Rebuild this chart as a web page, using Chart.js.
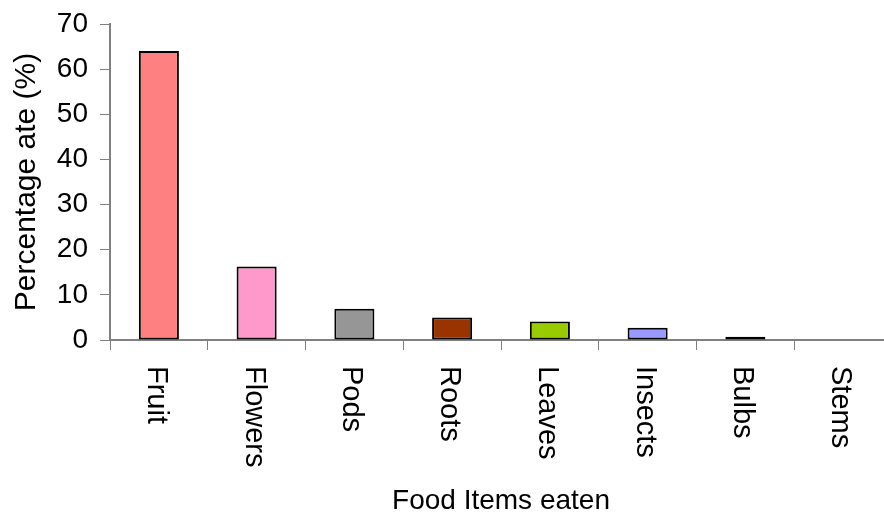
<!DOCTYPE html>
<html>
<head>
<meta charset="utf-8">
<script src="https://cdn.jsdelivr.net/npm/chart.js@4.4.1/dist/chart.umd.min.js"></script>
<style>
  html, body { margin: 0; padding: 0; background: #ffffff; overflow: hidden; }
  #wrap { width: 892px; height: 520px; }
</style>
</head>
<body>
<div id="wrap"><canvas id="chart" width="892" height="520"></canvas></div>
<script>
// Food items and the share of feeding records for each
const categories = ['Fruit', 'Flowers', 'Pods', 'Roots', 'Leaves', 'Insects', 'Bulbs', 'Stems'];
const percentages = [64.0, 16.3, 6.9, 5.0, 4.1, 2.7, 0.7, 0];
const barColors = ['#FF8080', '#FF99CC', '#969696', '#993300', '#99CC00', '#9999FF', '#000000', '#FFFFFF'];
const yTicks = [0, 10, 20, 30, 40, 50, 60, 70];

const FONT = '"Liberation Sans", Arial, sans-serif';
const AXIS_GREY = '#808080';

// Category names written vertically (top to bottom) under each bar
const verticalLabels = {
  id: 'verticalLabels',
  afterDraw(chart) {
    const xs = chart.scales.x;
    const ctx = chart.ctx;
    ctx.save();
    ctx.fillStyle = '#000000';
    ctx.font = '29px ' + FONT;
    ctx.textAlign = 'left';
    ctx.textBaseline = 'middle';
    categories.forEach((name, i) => {
      const x = xs.getPixelForValue(i) - 3;
      const y = xs.top + 26;
      ctx.save();
      ctx.translate(x, y);
      ctx.rotate(Math.PI / 2);
      ctx.fillText(name, 0, 0);
      ctx.restore();
    });
    ctx.restore();
  }
};

new Chart(document.getElementById('chart'), {
  type: 'bar',
  data: {
    labels: categories,
    datasets: [{
      data: percentages,
      backgroundColor: barColors,
      borderColor: '#000000',
      borderWidth: (c) => (c.raw > 0 ? 2 : 0),
      borderSkipped: false,
      barPercentage: 0.41,
      categoryPercentage: 1.0
    }]
  },
  options: {
    responsive: false,
    devicePixelRatio: 1,
    animation: false,
    layout: { padding: { top: 24, left: 0, right: 0, bottom: 0 } },
    plugins: { legend: { display: false }, tooltip: { enabled: false } },
    scales: {
      x: {
        afterFit(s) { s.height = 180; s.paddingLeft = 0; s.paddingRight = 0; },
        grid: {
          offset: true,
          drawOnChartArea: false,
          drawTicks: true,
          tickLength: 10,
          color: AXIS_GREY,
          lineWidth: 1
        },
        border: { display: true, color: AXIS_GREY, width: 2 },
        ticks: { display: false },
        title: {
          display: true,
          text: 'Food Items eaten',
          color: '#000000',
          font: { family: FONT, size: 28 },
          padding: { top: 0, bottom: 2 }
        }
      },
      y: {
        min: 0,
        max: 70,
        afterFit(s) { s.width = 110; s.paddingTop = 0; s.paddingBottom = 0; },
        afterBuildTicks(s) { s.ticks = yTicks.map(v => ({ value: v })); },
        grid: {
          drawOnChartArea: false,
          drawTicks: true,
          tickLength: 10,
          color: AXIS_GREY,
          lineWidth: 1
        },
        border: { display: true, color: AXIS_GREY, width: 2 },
        ticks: {
          color: '#000000',
          font: { family: FONT, size: 28 },
          padding: 12
        },
        title: {
          display: true,
          text: 'Percentage ate (%)',
          color: '#000000',
          font: { family: FONT, size: 30 },
          padding: { top: 9, bottom: 0 }
        }
      }
    }
  },
  plugins: [verticalLabels]
});
</script>
</body>
</html>
